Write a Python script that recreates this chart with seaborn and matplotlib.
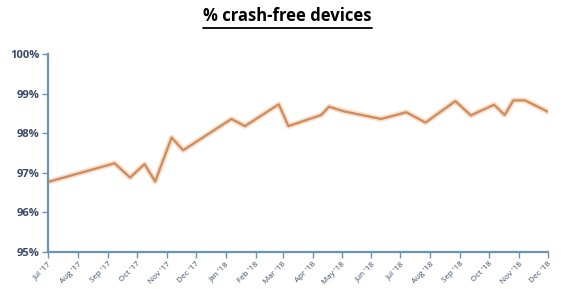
import matplotlib
matplotlib.use("Agg")
import matplotlib.pyplot as plt
from matplotlib.lines import Line2D
import seaborn as sns
import pandas as pd

dates = ["2017-07-01", "2017-09-08", "2017-09-24", "2017-10-09", "2017-10-20",
         "2017-11-06", "2017-11-18", "2018-01-07", "2018-01-21", "2018-02-25",
         "2018-03-07", "2018-04-10", "2018-04-18", "2018-05-04", "2018-06-11",
         "2018-07-07", "2018-07-27", "2018-08-27", "2018-09-12", "2018-10-06",
         "2018-10-17", "2018-10-26", "2018-11-07", "2018-12-01"]
crash_free = [96.77, 97.24, 96.88, 97.22, 96.78,
              97.89, 97.57, 98.36, 98.18, 98.73,
              98.18, 98.46, 98.67, 98.55, 98.36,
              98.53, 98.27, 98.81, 98.45, 98.72,
              98.46, 98.83, 98.83, 98.54]
tick_dates = pd.date_range("2017-07-01", "2018-12-01", freq="MS")
tick_labels = [d.strftime("%b '%y") for d in tick_dates]
y_ticks = [95, 96, 97, 98, 99, 100]
y_labels = [f"{v}%" for v in y_ticks]
title = "% crash-free devices"

df = pd.DataFrame({"date": pd.to_datetime(dates), "value": crash_free})

sns.set_theme(style="white")
plt.rcParams["font.family"] = ["Open Sans", "DejaVu Sans"]

fig = plt.figure(figsize=(5.61, 2.89), dpi=100)
ax = fig.add_axes([0.0856, 0.128, 0.977 - 0.0856, 0.813 - 0.128])

sns.lineplot(data=df, x="date", y="value", ax=ax, color="#f0c8a8", linewidth=4, alpha=0.6)
sns.lineplot(data=df, x="date", y="value", ax=ax, color="#d08a5c", linewidth=1.6)

ax.set_xlim(tick_dates[0], tick_dates[-1])
ax.set_ylim(95, 100)
ax.set_yticks(y_ticks)
ax.set_yticklabels(y_labels, fontsize=8, color="#3a4a66", fontweight="bold")
ax.set_xticks(tick_dates)
ax.set_xticklabels(tick_labels, fontsize=5.8, color="#3a4a66", rotation=45, ha="right",
                   rotation_mode="anchor")
ax.set_xlabel("")
ax.set_ylabel("")

for s in ["top", "right"]:
    ax.spines[s].set_visible(False)
for s in ["left", "bottom"]:
    ax.spines[s].set_color("#6b93b8")
    ax.spines[s].set_linewidth(1.6)
ax.tick_params(axis="both", which="major", length=4, width=1, color="#6b93b8",
               direction="out", bottom=True, left=True, pad=2)

fig.text(0.5125, 0.912, title, ha="center", va="bottom", fontsize=12,
         fontweight="bold", color="black")
fig.add_artist(Line2D([0.362, 0.663], [0.903, 0.903], color="black", linewidth=1.3,
                      transform=fig.transFigure))

fig.savefig("out.png", dpi=100, facecolor="white")
